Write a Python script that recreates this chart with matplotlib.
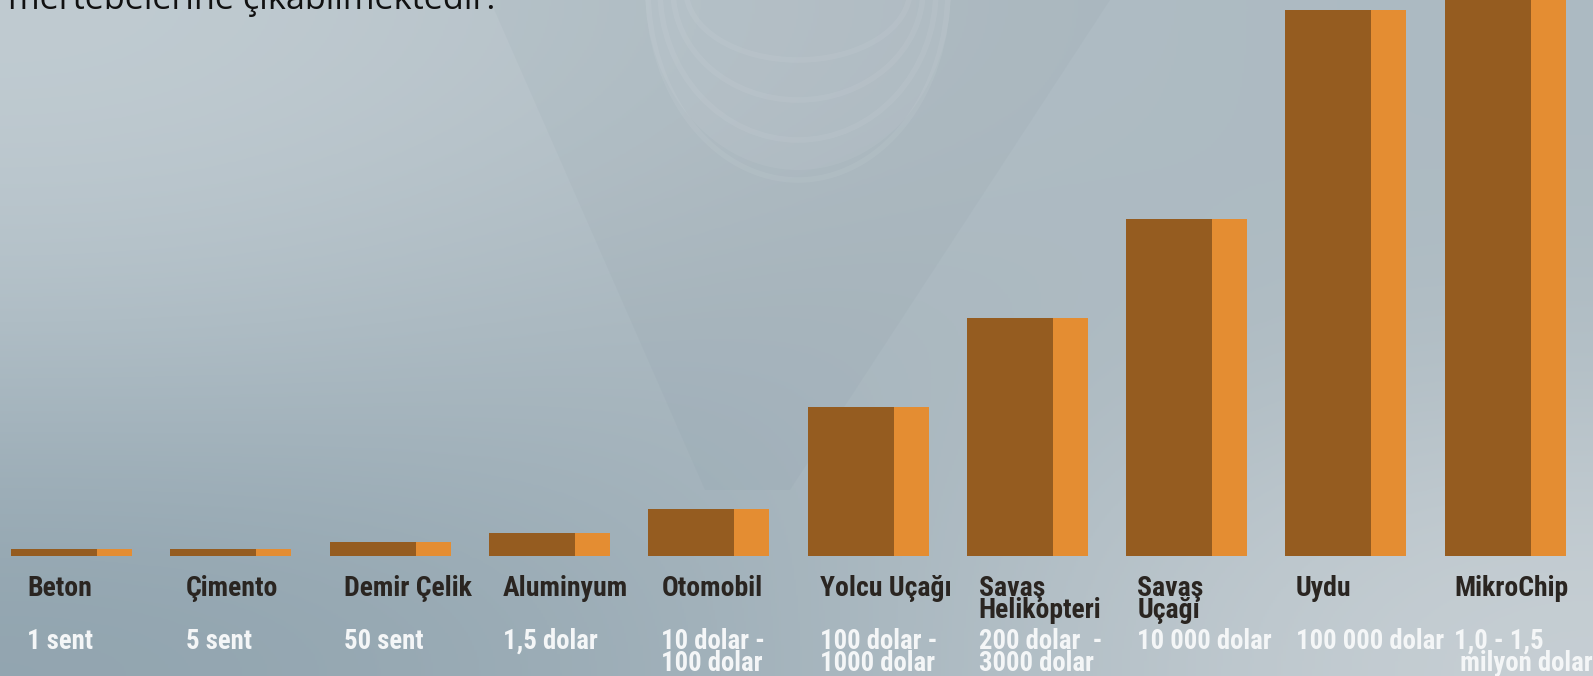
import numpy as np
import matplotlib
matplotlib.use('Agg')
import matplotlib.pyplot as plt
from matplotlib import font_manager
from matplotlib.patches import Polygon, Ellipse

# veriler
kategoriler = ['Beton', 'Çimento', 'Demir Çelik', 'Aluminyum', 'Otomobil',
               'Yolcu Uçağı', 'Savaş\nHelikopteri', 'Savaş\nUçağı', 'Uydu', 'MikroChip']
fiyatlar = ['1 sent', '5 sent', '50 sent', '1,5 dolar', '10 dolar -\n100 dolar',
            '100 dolar -\n1000 dolar', '200 dolar  -\n3000 dolar', '10 000 dolar',
            '100 000 dolar', '1,0 - 1,5\n milyon dolar']
yukseklik = [7, 7, 14.5, 23.5, 47, 149, 238, 337, 546, 600]
baslik = 'mertebelerine çıkabilmektedir.'

# dar (condensed) bir font bul
fl = font_manager.fontManager.ttflist
dar = None
for f in fl:
    if f.name in ('Liberation Sans Narrow', 'Roboto Condensed', 'Open Sans Condensed', 'Noto Sans Condensed'):
        dar = dict(family=[f.name, 'DejaVu Sans'])
        break
if dar is None:
    for f in fl:
        if str(f.stretch) in ('condensed', 'semi-condensed', '75', '87.5') or 'Condensed' in f.fname:
            dar = dict(family=[f.name, 'DejaVu Sans'], fontstretch='condensed')
            break
if dar is None:
    dar = dict(family=['Roboto', 'DejaVu Sans'])
    s_ad, s_fiyat = 16, 15
else:
    s_ad, s_fiyat = 20, 19.3

W, H = 1593, 676
PX = 159.3          # bar araligi (piksel)
X0 = 11             # ilk bar sol kenari
BASE = 556          # bar tabani (ustten piksel)

def px2d(px, py):
    return (px - X0) / PX, BASE - py

fig = plt.figure(figsize=(W / 100, H / 100), dpi=100)
ax = fig.add_axes([0, 0, 1, 1])
x0, y0 = px2d(0, H)
x1, y1 = px2d(W, 0)

# arka plan gradyani
bg = np.array([
    [[193, 204, 210], [178, 190, 197], [172, 186, 194]],
    [[176, 190, 198], [166, 180, 188], [176, 189, 196]],
    [[145, 164, 175], [162, 178, 187], [200, 208, 213]],
]) / 255.0
ax.imshow(bg, extent=[x0, x1, y0, y1], aspect='auto', interpolation='bicubic', zorder=0)

# koni silueti
koni = [px2d(490, 0), px2d(1110, 0), px2d(790, 490), px2d(705, 490)]
ax.add_patch(Polygon(koni, closed=True, facecolor='#6f818c', alpha=0.06, edgecolor='none', zorder=1))
cx, cy = px2d(798, -10)
ax.add_patch(Ellipse((cx, cy), 2 * 153 / PX, 2 * 180, facecolor='white', alpha=0.05, edgecolor='none', zorder=1))
for hw, bot in [(150, 180), (138, 140), (125, 100), (112, 60)]:
    ax.add_patch(Ellipse((cx, cy), 2 * hw / PX, 2 * (bot + 10), facecolor='none',
                         edgecolor='white', alpha=0.06, lw=4, zorder=1))

# cubuklar
x = np.arange(len(kategoriler))
kahve = '#955c20'
turuncu = '#e48d32'
ax.bar(x, yukseklik, width=86 / PX, align='edge', color=kahve, zorder=2)
ax.bar(x + 86 / PX, yukseklik, width=35 / PX, align='edge', color=turuncu, zorder=2)

# etiketler
for i in range(len(kategoriler)):
    lx = (27 + i * 158.6 - X0) / PX
    for k, satir in enumerate(kategoriler[i].split('\n')):
        ax.text(lx, -40 - 22 * k, satir, fontweight='bold', fontsize=s_ad,
                color='#2a2521', va='baseline', zorder=3, **dar)
    for k, satir in enumerate(fiyatlar[i].split('\n')):
        ax.text(lx, -93 - 22 * k, satir, fontweight='bold', fontsize=s_fiyat,
                color='#f4f6f7', va='baseline', zorder=3, **dar)

fig.text(8 / W, 1 - 9 / H, baslik, family=['Open Sans', 'DejaVu Sans'], fontsize=24.7,
         color='#111111', va='baseline')

ax.set_xlim(x0, x1)
ax.set_ylim(y0, y1)
ax.axis('off')
fig.savefig('out.png', dpi=100)
